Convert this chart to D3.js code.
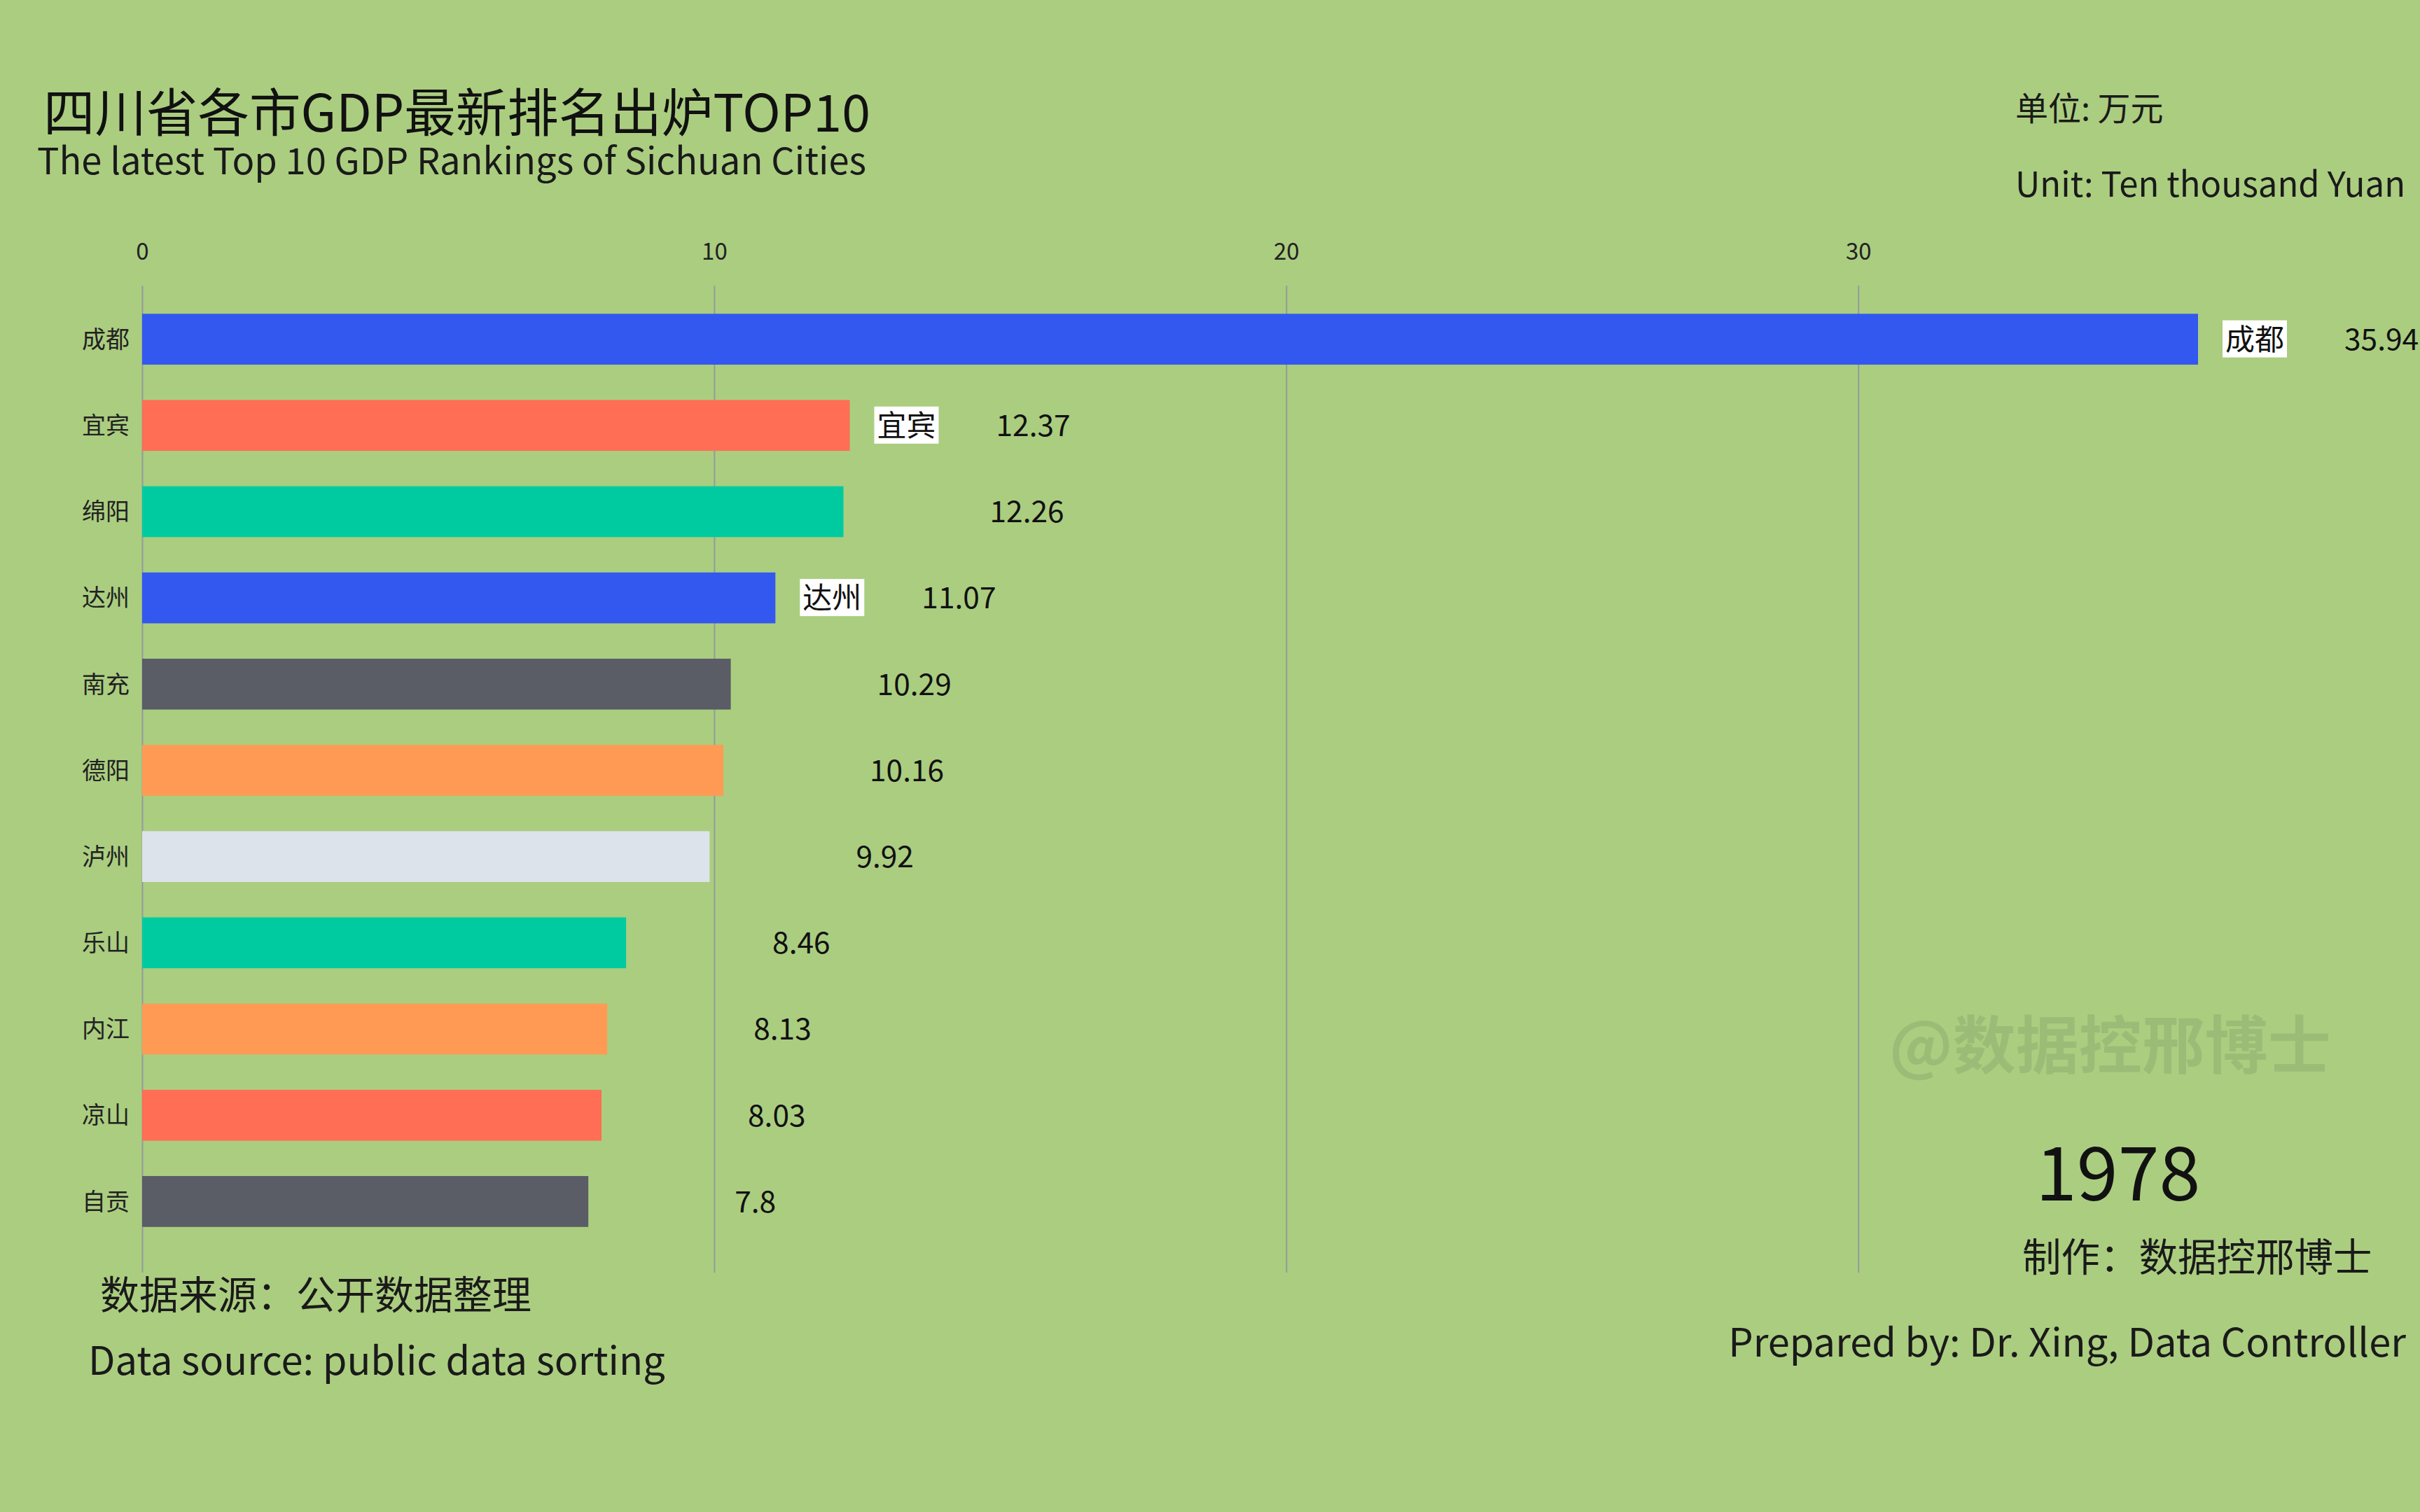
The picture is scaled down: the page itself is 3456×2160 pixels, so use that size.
<!DOCTYPE html>
<html>
<head>
<meta charset="utf-8">
<script src="https://cdn.jsdelivr.net/npm/d3@7"></script>
<style>
  html, body { margin: 0; padding: 0; background: #abcd80; }
  svg text { font-family: "Noto Sans CJK SC", "Noto Sans", sans-serif; }
</style>
</head>
<body>
<svg id="chart"></svg>
<script>
// data (GDP, 万元)
const cities = ["成都", "宜宾", "绵阳", "达州", "南充", "德阳", "泸州", "乐山", "内江", "凉山", "自贡"]
const gdp = [35.94, 12.37, 12.26, 11.07, 10.29, 10.16, 9.92, 8.46, 8.13, 8.03, 7.8]
const tagged = ["成都", "宜宾", "达州"]
const xTicks = [0, 10, 20, 30]
const year = "1978"

const palette = ["#3358ef", "#ff6e55", "#00cba0", "#3358ef", "#5a5c66", "#ff9a55",
                 "#dde3ea", "#00cba0", "#ff9a55", "#ff6e55", "#5a5c66"]

const W = 3456, H = 2160

let svg = d3.select("#chart")
            .attr("width", W)
            .attr("height", H)

svg.append("rect")
   .attr("width", W)
   .attr("height", H)
   .attr("fill", "#abcd80")

let x = d3.scaleLinear()
          .domain([0, d3.max(gdp)])
          .range([203, 3139])

let y = d3.scaleBand()
          .domain(cities)
          .range([423, 1778])
          .paddingInner(0.41)
          .paddingOuter(0.205)

let color = d3.scaleOrdinal()
              .domain(cities)
              .range(palette)

let valueOf = d => gdp[cities.indexOf(d)]

// grid + ticks on top
let axis = svg.append("g")
              .attr("transform", "translate(0,408)")
              .call(d3.axisTop(x).tickValues(xTicks).tickSize(-1410).tickFormat(d3.format("d")))
axis.select(".domain").remove()
axis.selectAll("line")
    .attr("stroke", "#939c98")
    .attr("stroke-width", 2)
axis.selectAll("text")
    .attr("y", -37)
    .attr("dy", 0)
    .attr("fill", "#222")
    .style("font-size", "33px")

let rows = svg.append("g")
              .selectAll("g")
              .data(cities)
              .join("g")
              .attr("transform", d => "translate(0," + y(d) + ")")

rows.append("rect")
    .classed("bar", true)
    .attr("x", x(0))
    .attr("width", d => x(valueOf(d)) - x(0))
    .attr("height", y.bandwidth())
    .attr("fill", d => color(d))

rows.append("text")
    .attr("x", 185)
    .attr("y", y.bandwidth() / 2)
    .attr("dy", "0.36em")
    .attr("text-anchor", "end")
    .attr("fill", "#222")
    .style("font-size", "34px")
    .text(d => d)

rows.append("text")
    .attr("x", d => x(valueOf(d)) + 209)
    .attr("y", y.bandwidth() / 2)
    .attr("dy", "0.36em")
    .attr("fill", "#111")
    .style("font-size", "42.5px")
    .text(d => valueOf(d))

// white name tags beside some bars
let tags = rows.filter(d => tagged.includes(d))
tags.append("rect")
    .classed("tag", true)
    .attr("x", d => x(valueOf(d)) + 35)
    .attr("y", y.bandwidth() / 2 - 27)
    .attr("width", 92)
    .attr("height", 53)
    .attr("fill", "#fff")
tags.append("text")
    .attr("x", d => x(valueOf(d)) + 81)
    .attr("y", y.bandwidth() / 2)
    .attr("dy", "0.36em")
    .attr("text-anchor", "middle")
    .attr("fill", "#111")
    .style("font-size", "42px")
    .text(d => d)

// titles
svg.append("text")
   .attr("x", 62)
   .attr("y", 188)
   .attr("fill", "#111")
   .style("font-size", "73.5px")
   .text("四川省各市GDP最新排名出炉TOP10")
svg.append("text")
   .attr("x", 53)
   .attr("y", 249)
   .attr("fill", "#1a1a1a")
   .style("font-size", "52.5px")
   .text("The latest Top 10 GDP Rankings of Sichuan Cities")

svg.append("text")
   .attr("x", 2878)
   .attr("y", 172)
   .attr("fill", "#1a1a1a")
   .style("font-size", "47px")
   .text("单位: 万元")
svg.append("text")
   .attr("x", 2878)
   .attr("y", 281)
   .attr("fill", "#1a1a1a")
   .style("font-size", "49px")
   .text("Unit: Ten thousand Yuan")

// watermark, year, credits
svg.append("text")
   .attr("x", 2698)
   .attr("y", 1526)
   .attr("fill", "#9bbc76")
   .style("font-size", "90px")
   .style("font-weight", "bold")
   .text("@数据控邢博士")

svg.append("text")
   .attr("x", 2907)
   .attr("y", 1715)
   .attr("fill", "#111")
   .style("font-size", "106px")
   .text(year)

svg.append("text")
   .attr("x", 2888)
   .attr("y", 1816)
   .attr("fill", "#1a1a1a")
   .style("font-size", "55.5px")
   .text("制作：数据控邢博士")
svg.append("text")
   .attr("x", 3436)
   .attr("y", 1938)
   .attr("text-anchor", "end")
   .attr("fill", "#1a1a1a")
   .style("font-size", "56px")
   .text("Prepared by: Dr. Xing, Data Controller")

svg.append("text")
   .attr("x", 143)
   .attr("y", 1870)
   .attr("fill", "#1a1a1a")
   .style("font-size", "56px")
   .text("数据来源：公开数据整理")
svg.append("text")
   .attr("x", 126)
   .attr("y", 1964)
   .attr("fill", "#1a1a1a")
   .style("font-size", "56px")
   .text("Data source: public data sorting")
</script>
</body>
</html>
